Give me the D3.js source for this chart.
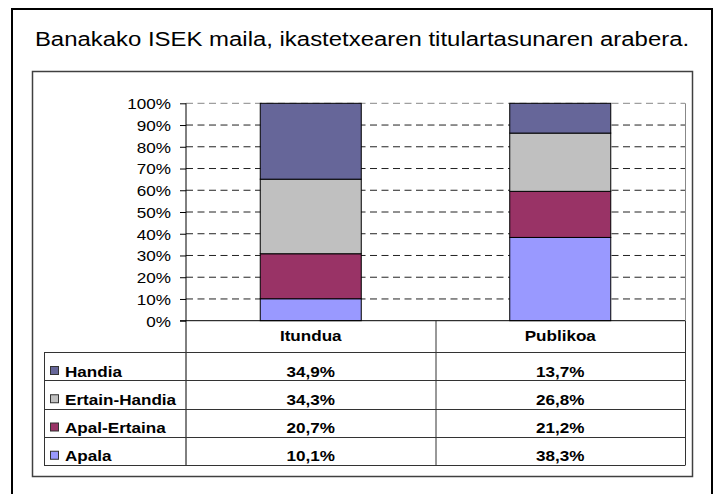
<!DOCTYPE html>
<html>
<head>
<meta charset="utf-8">
<script src="https://cdn.jsdelivr.net/npm/d3@7"></script>
<style>
  body { margin: 0; background: #fff; }
  svg { display: block; }
</style>
</head>
<body>
<svg id="chart" width="714" height="494"></svg>
<script>
// data
const categories = ["Itundua", "Publikoa"];
const levels = ["Apala", "Apal-Ertaina", "Ertain-Handia", "Handia"];
const apala = [10.1, 38.3];
const apalErtaina = [20.7, 21.2];
const ertainHandia = [34.3, 26.8];
const handia = [34.9, 13.7];
const yTicks = [0, 10, 20, 30, 40, 50, 60, 70, 80, 90, 100];
const title = "Banakako ISEK maila, ikastetxearen titulartasunaren arabera.";

const seriesValues = {
  "Apala": apala,
  "Apal-Ertaina": apalErtaina,
  "Ertain-Handia": ertainHandia,
  "Handia": handia
};
const colors = {
  "Apala": "#9999FF",
  "Apal-Ertaina": "#993366",
  "Ertain-Handia": "#C0C0C0",
  "Handia": "#666699"
};

const fontFamily = "Liberation Sans, Arial, Helvetica, sans-serif";
const fmt = v => d3.format(".1f")(v).replace(".", ",") + "%";
const textStretch = 1.14; // reference glyphs are a bit wider than Arial

// move x/y into a transform so the text can be widened around its anchor
function stretch(sel) {
  sel.each(function () {
    const t = d3.select(this);
    const tx = +t.attr("x") || 0;
    const ty = +t.attr("y") || 0;
    t.attr("x", 0).attr("y", 0)
      .attr("transform", `translate(${tx},${ty}) scale(${textStretch},1)`);
  });
}

const svg = d3.select("#chart")
  .style("font-family", fontFamily);

// outer frame + inner box
svg.append("rect")
  .attr("x", 12).attr("y", 9)
  .attr("width", 700).attr("height", 500)
  .attr("fill", "#fff").attr("stroke", "#000").attr("stroke-width", 2);

svg.append("text")
  .attr("x", 362).attr("y", 46)
  .attr("text-anchor", "middle")
  .style("font-size", "21px")
  .text(title)
  .call(stretch);

svg.append("rect")
  .attr("x", 32.5).attr("y", 71.5)
  .attr("width", 660).attr("height", 405)
  .attr("fill", "#fff").attr("stroke", "#404040").attr("stroke-width", 1.5);

// plot area
const plot = { left: 186, right: 685, top: 103.3, bottom: 320.7 };

const x = d3.scaleBand()
  .domain(categories)
  .range([plot.left, plot.right])
  .padding(0);

const y = d3.scaleLinear()
  .domain([0, 100])
  .range([plot.bottom, plot.top]);

// gridlines
svg.append("g")
  .selectAll("line")
  .data(yTicks.filter(d => d > 0))
  .join("line")
  .attr("x1", plot.left).attr("x2", plot.right)
  .attr("y1", d => y(d)).attr("y2", d => y(d))
  .attr("stroke", d => d === 100 ? "#888" : "#222")
  .attr("stroke-width", 1)
  .attr("stroke-dasharray", "7,4.5");

// plot right border
svg.append("line")
  .attr("x1", plot.right + 0.5).attr("x2", plot.right + 0.5)
  .attr("y1", plot.top).attr("y2", plot.bottom)
  .attr("stroke", "#888");

// stacked bars
const rows = categories.map((c, i) => {
  const r = { category: c };
  levels.forEach(l => (r[l] = seriesValues[l][i]));
  return r;
});
const stacked = d3.stack().keys(levels)(rows);
const barW = x.bandwidth() / 2.47;

svg.append("g")
  .selectAll("g")
  .data(stacked)
  .join("g")
  .attr("fill", d => colors[d.key])
  .selectAll("rect")
  .data(d => d)
  .join("rect")
  .attr("x", d => x(d.data.category) + (x.bandwidth() - barW) / 2)
  .attr("y", d => y(d[1]))
  .attr("width", barW)
  .attr("height", d => y(d[0]) - y(d[1]))
  .attr("stroke", "#000")
  .attr("stroke-width", 1);

// y axis
const yAxis = svg.append("g")
  .attr("transform", `translate(${plot.left},0)`)
  .call(d3.axisLeft(y)
    .tickValues(yTicks)
    .tickSize(6)
    .tickPadding(9)
    .tickFormat(d => d + "%"));
yAxis.select(".domain").remove();
yAxis.selectAll("line").attr("stroke", "#000");
yAxis.selectAll("text")
  .style("font-family", fontFamily)
  .style("font-size", "15px")
  .attr("fill", "#000")
  .attr("dy", null)
  .attr("y", 5.4)
  .call(stretch);

svg.append("line")
  .attr("x1", plot.left).attr("x2", plot.left)
  .attr("y1", plot.top).attr("y2", 465)
  .attr("stroke", "#000");

svg.append("line")
  .attr("x1", plot.left - 6).attr("x2", plot.right)
  .attr("y1", plot.bottom).attr("y2", plot.bottom)
  .attr("stroke", "#000");

// data table
const tableLeft = 44;
const headerTop = plot.bottom;
const headerBottom = 352;
const tableBottom = 465;
const tableRows = levels.slice().reverse();

const rowY = d3.scaleBand()
  .domain(tableRows)
  .range([headerBottom, tableBottom]);

const table = svg.append("g");

// horizontal lines
table.selectAll("line.h")
  .data([headerBottom].concat(tableRows.map(r => rowY(r) + rowY.bandwidth())))
  .join("line")
  .attr("class", "h")
  .attr("x1", tableLeft).attr("x2", plot.right)
  .attr("y1", d => Math.round(d) + 0.5).attr("y2", d => Math.round(d) + 0.5)
  .attr("stroke", "#333");

// vertical lines
table.append("line")
  .attr("x1", tableLeft + 0.5).attr("x2", tableLeft + 0.5)
  .attr("y1", headerBottom).attr("y2", tableBottom + 0.5)
  .attr("stroke", "#333");
table.selectAll("line.v")
  .data(categories)
  .join("line")
  .attr("class", "v")
  .attr("x1", d => x(d) + x.bandwidth() + 0.5)
  .attr("x2", d => x(d) + x.bandwidth() + 0.5)
  .attr("y1", headerTop).attr("y2", tableBottom + 0.5)
  .attr("stroke", "#333");

// header
table.selectAll("text.head")
  .data(categories)
  .join("text")
  .attr("class", "head")
  .attr("x", d => x(d) + x.bandwidth() / 2)
  .attr("y", headerTop + 20.5)
  .attr("text-anchor", "middle")
  .style("font-size", "15px")
  .style("font-weight", "bold")
  .text(d => d)
  .call(stretch);

// legend keys + labels
const rowG = table.selectAll("g.row")
  .data(tableRows)
  .join("g")
  .attr("class", "row")
  .attr("transform", d => `translate(0,${rowY(d)})`);

rowG.append("rect")
  .attr("x", 50.5).attr("y", 14.5)
  .attr("width", 8).attr("height", 8)
  .attr("fill", d => colors[d])
  .attr("stroke", "#333");

rowG.append("text")
  .attr("x", 65).attr("y", 24.5)
  .style("font-size", "15px")
  .style("font-weight", "bold")
  .text(d => d)
  .call(stretch);

rowG.selectAll("text.val")
  .data(d => categories.map((c, i) => ({ c, v: seriesValues[d][i] })))
  .join("text")
  .attr("class", "val")
  .attr("x", d => x(d.c) + x.bandwidth() / 2)
  .attr("y", 24.5)
  .attr("text-anchor", "middle")
  .style("font-size", "15px")
  .style("font-weight", "bold")
  .text(d => fmt(d.v))
  .call(stretch);
</script>
</body>
</html>
